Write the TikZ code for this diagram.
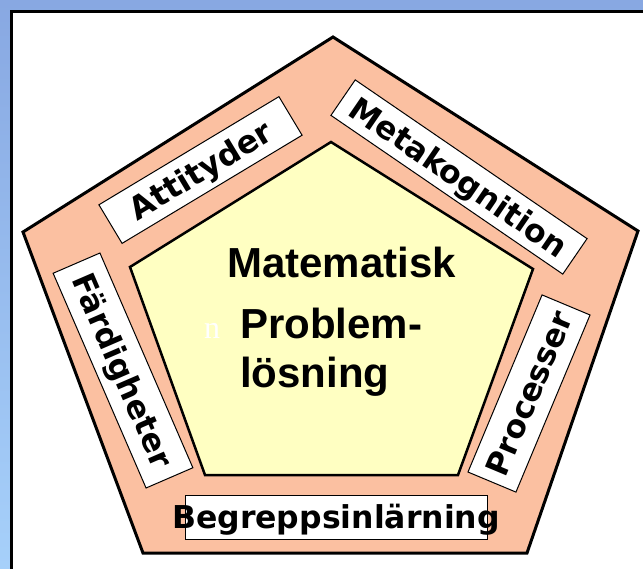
\documentclass[tikz,border=0pt]{standalone}
\usepackage{fontspec}
\setmainfont{Liberation Sans}
\newfontfamily\labfont{DejaVu Sans}
\newfontfamily\centfont{Liberation Sans}
\newfontfamily\serfont{Liberation Serif}
\definecolor{bgtop}{RGB}{136,168,226}
\definecolor{bgbot}{RGB}{166,208,250}
\definecolor{salmon}{RGB}{251,192,161}
\definecolor{paleyellow}{RGB}{255,255,194}
\tikzset{
  labbox/.style={draw=black, line width=1pt, fill=white, inner sep=0pt},
  labtext/.style={font=\labfont\bfseries\fontsize{31.5}{36}\selectfont, text height=23pt, text depth=0pt, inner sep=0pt},
  centtext/.style={font=\centfont\bfseries\fontsize{42}{48}\selectfont, inner sep=0pt, anchor=base west},
}
\begin{document}
\begin{tikzpicture}[x=1pt,y=-1pt]
\path[use as bounding box] (0,0) rectangle (643,568);
% background frame
\begin{scope}
\clip (0,0) rectangle (643,568);
\shade[top color=bgtop, bottom color=bgbot] (0,0) rectangle (643,568);
\fill[white] (11,11) rectangle (650,575);
\draw[line width=3pt] (11,575) -- (11,11) -- (650,11);
\end{scope}
% outer pentagon
\filldraw[fill=salmon, draw=black, line width=3pt, line join=miter]
  (333,37) -- (638,231) -- (527,553) -- (143,553) -- (23,232) -- cycle;
% inner pentagon
\filldraw[fill=paleyellow, draw=black, line width=2.5pt, line join=miter]
  (331,142) -- (533,269) -- (458,475) -- (205,475) -- (130,267) -- cycle;
% labels
\node[labbox, labtext, minimum width=210pt, minimum height=45pt, rotate=31] (att) at (200.5,170) {Attityder};
\node[labbox, labtext, minimum width=281pt, minimum height=43pt, rotate=-34.4] (meta) at (459,177) {Metakognition};
\node[labbox, labtext, minimum width=234pt, minimum height=51pt, rotate=-66.6] (fard) at (123,370.5) {Färdigheter};
\node[labbox, labtext, minimum width=192pt, minimum height=52pt, rotate=67.3] (proc) at (529,393.5) {Processer};
\node[labbox, minimum width=302pt, minimum height=44pt] (begrbox) at (336,517) {};
\node[labtext] (begr) at (begrbox.center) {Begreppsinlärning};
% centre text
\node[centtext] (mat) at (227,277) {Matematisk};
\node[centtext] (prob) at (240,338) {Problem-};
\node[centtext] (los) at (240,387) {lösning};
\node[font=\serfont\fontsize{32}{36}\selectfont, text=white, inner sep=0pt, anchor=base] (n) at (212,338) {n};
\end{tikzpicture}
\end{document}
